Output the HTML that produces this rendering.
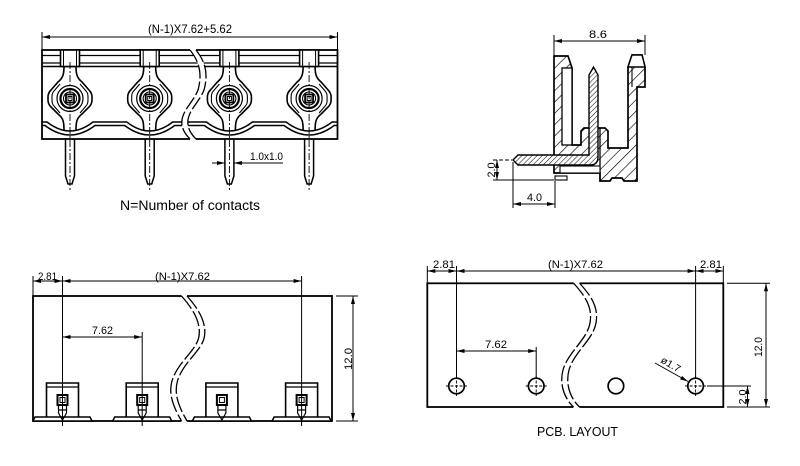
<!DOCTYPE html>
<html><head><meta charset="utf-8"><style>
html,body{margin:0;padding:0;background:#fff;}
svg{display:block;}
text{font-family:"Liberation Sans Narrow","Liberation Sans",sans-serif;fill:#000;}
</style></head><body>
<svg width="800" height="466" viewBox="0 0 800 466" xmlns="http://www.w3.org/2000/svg">
<defs>
<marker id="a" markerUnits="userSpaceOnUse" viewBox="0 0 8 4" refX="8" refY="2" markerWidth="8" markerHeight="4" orient="auto-start-reverse"><path d="M0,0L8,2L0,4z" fill="#000"/></marker>
<pattern id="h1" patternUnits="userSpaceOnUse" width="8" height="8" patternTransform="rotate(45)"><line x1="0" y1="0" x2="0" y2="8" stroke="#000" stroke-width="1.3"/></pattern>
<pattern id="h2" patternUnits="userSpaceOnUse" width="3.6" height="3.6" patternTransform="rotate(45)"><line x1="0" y1="0" x2="0" y2="3.6" stroke="#000" stroke-width="1"/></pattern>
<g id="scr" fill="none" stroke="#000">
 <rect x="-9.5" y="50" width="19" height="16.5" fill="#fff" stroke-width="1.6"/>
 <path d="M-6.5,50 L-6.5,66.5 M6.5,50 L6.5,66.5" stroke-width="1"/>
 <path d="M-6,66.5 C-6,74 -7,78 -12,82 L-19,90 C-21,92 -22,94 -22,97 L-22,100 C-22,103 -21,105 -19,107 L-12,114 C-7,118 -6,121 -6,130 M6,66.5 C6,74 7,78 12,82 L19,90 C21,92 22,94 22,97 L22,100 C22,103 21,105 19,107 L12,114 C7,118 6,121 6,130" stroke-width="1.6"/>
 <path d="M-10,84 L-16,91 C-18,93 -18,95 -18,98.5 C-18,102 -18,104 -16,106 L-10,113 M10,84 L16,91 C18,93 18,95 18,98.5 C18,102 18,104 16,106 L10,113" stroke-width="1.1"/>
 <circle cx="0" cy="98.5" r="13" stroke-width="1.2"/>
 <circle cx="0" cy="98.5" r="9.5" stroke-width="2.2"/>
 <circle cx="0" cy="98.5" r="6.5" stroke-width="1.1"/>
 <rect x="-4" y="94.5" width="8" height="8" stroke-width="1.8"/>
 <rect x="-2" y="96.5" width="4" height="4" stroke-width="1"/>
 <path d="M-4.5,139 L-4.5,176 L-2,184 L2,184 L4.5,176 L4.5,139" stroke-width="1.5"/>
 <line x1="0" y1="62" x2="0" y2="190" stroke-width="0.9" stroke-dasharray="7 2 2 2"/>
</g>
<g id="term" fill="none" stroke="#000">
 <polygon points="-29.5,421 -27.5,417 27.5,417 29.5,421" fill="#fff" stroke-width="1.5"/>
 <path d="M-16,417 L-16,383 L16,383 L16,417" stroke-width="1.6"/>
 <line x1="-16" y1="387" x2="16" y2="387" stroke-width="1.2"/>
 <rect x="-5" y="395" width="10" height="10" stroke-width="2"/>
 <rect x="-2.5" y="397.5" width="5" height="5" stroke-width="1"/>
 <path d="M-4,405 L-4,413 L0,420 L4,413 L4,405 M-4,410 L4,410" stroke-width="1.2"/>
</g>
</defs>

<!-- ===== TOP LEFT: front view ===== -->
<g fill="none" stroke="#000">
 <rect x="42" y="50" width="295.5" height="89" stroke-width="1.8"/>
 <line x1="42" y1="55.5" x2="337.5" y2="55.5" stroke-width="1.2"/>
 <line x1="42" y1="63" x2="337.5" y2="63" stroke-width="1.2"/>
 <line x1="42" y1="66.5" x2="337.5" y2="66.5" stroke-width="1.5"/>
 <path d="M42,122 L47,122 Q70,140 93,122 L126.7,122 Q149.7,140 172.7,122 L206.4,122 Q229.4,140 252.4,122 L286.1,122 Q309.1,140 332.1,122 L337.5,122" stroke-width="1.5"/>
 <path d="M42,125.5 L45,125.5 Q70,144.5 95,125.5 L124.7,125.5 Q149.7,144.5 174.7,125.5 L204.4,125.5 Q229.4,144.5 254.4,125.5 L284.1,125.5 Q309.1,144.5 334.1,125.5 L337.5,125.5" stroke-width="1.5"/>
</g>
<use href="#scr" transform="translate(70,0)"/>
<use href="#scr" transform="translate(149.7,0)"/>
<use href="#scr" transform="translate(229.4,0)"/>
<use href="#scr" transform="translate(309.1,0)"/>
<path d="M190,48.5 L190,50 C198,60 203,72 198,90 C193,103 180,112 182,125 C183,131 186,135 190,139 L190,140.5 L196,140.5 L196,139 C192,135 189,131 188,125 C186,112 199,103 204,90 C209,72 204,60 196,50 L196,48.5 Z" fill="#fff"/>
<g fill="none" stroke="#000" stroke-width="1.3">
 <path d="M190,50 C198,60 203,72 198,90 C193,103 180,112 182,125 C183,131 186,135 190,139" stroke-dasharray="14 3"/>
 <path d="M196,50 C204,60 209,72 204,90 C199,103 186,112 188,125 C189,131 192,135 196,139" stroke-dasharray="14 3"/>
</g>
<g stroke="#000" stroke-width="1" fill="none">
 <line x1="42" y1="32" x2="42" y2="50"/>
 <line x1="337.5" y1="32" x2="337.5" y2="50"/>
 <line x1="42" y1="37" x2="337.5" y2="37" marker-start="url(#a)" marker-end="url(#a)"/>
 <line x1="212" y1="163" x2="224.9" y2="163" marker-end="url(#a)"/>
 <line x1="283" y1="163" x2="233.9" y2="163" marker-end="url(#a)"/>
</g>
<text x="148" y="33" font-size="12" textLength="84" lengthAdjust="spacingAndGlyphs">(N-1)X7.62+5.62</text>
<text x="250" y="160" font-size="11" textLength="33" lengthAdjust="spacingAndGlyphs">1.0x1.0</text>
<text x="120" y="210" font-size="13.5" textLength="140" lengthAdjust="spacingAndGlyphs">N=Number of contacts</text>

<!-- ===== TOP RIGHT: side section ===== -->
<path d="M554,56 L568,56 L572,68 L572,145 L581,145 L581,131 L584,128 L605,128 L608,131 L608,148 L628,148 L628,67 L632,55 L642,55 L645,67 L645,87 L637,87 L637,181 L624,181 L622,178 L612,178 L610,181 L600,181 L600,173 L554,173 Z" fill="url(#h1)" stroke="#000" stroke-width="1.7"/>
<rect x="562" y="68" width="10" height="77" fill="#fff" stroke="#000" stroke-width="1.3"/>
<polygon points="628,67 632,55 642,55 645,67" fill="#fff" stroke="#000" stroke-width="1.4"/>
<line x1="632" y1="67" x2="632" y2="87" stroke="#000" stroke-width="1.1"/>
<line x1="600" y1="128" x2="600" y2="181" stroke="#000" stroke-width="1.3"/>
<rect x="560" y="166" width="40" height="7" fill="#fff" stroke="#000" stroke-width="1.1"/>
<rect x="555" y="176" width="12" height="4" fill="#fff" stroke="#000" stroke-width="1.1"/>
<path d="M513,160 L518,155 L589,155 L589,75 L593.5,67 L598,75 L598,157 Q598,165 590,165 L518,165 Z" fill="#fff" stroke="none"/>
<path d="M513,160 L518,155 L589,155 L589,75 L593.5,67 L598,75 L598,157 Q598,165 590,165 L518,165 Z" fill="url(#h2)" stroke="#000" stroke-width="1.4"/>
<g stroke="#000" stroke-width="1" fill="none">
 <line x1="554" y1="35" x2="554" y2="56"/>
 <line x1="645" y1="35" x2="645" y2="55"/>
 <line x1="554" y1="41" x2="645" y2="41" marker-start="url(#a)" marker-end="url(#a)"/>
 <line x1="493" y1="160" x2="512" y2="160" stroke-dasharray="4 2"/>
 <line x1="493" y1="180" x2="554" y2="180"/>
 <line x1="497" y1="160" x2="497" y2="180" marker-start="url(#a)" marker-end="url(#a)"/>
 <line x1="513" y1="162" x2="513" y2="208"/>
 <line x1="555" y1="181" x2="555" y2="208"/>
 <line x1="513" y1="204" x2="555" y2="204" marker-start="url(#a)" marker-end="url(#a)"/>
</g>
<text x="589" y="38" font-size="11" textLength="18" lengthAdjust="spacingAndGlyphs">8.6</text>
<text x="527" y="201" font-size="11" textLength="15" lengthAdjust="spacingAndGlyphs">4.0</text>
<text transform="translate(495,170) rotate(-90)" text-anchor="middle" font-size="11" textLength="15" lengthAdjust="spacingAndGlyphs">2.0</text>

<!-- ===== BOTTOM LEFT: bottom view ===== -->
<rect x="33" y="296" width="299" height="125" fill="none" stroke="#000" stroke-width="1.8"/>
<use href="#term" transform="translate(62.5,0)"/>
<use href="#term" transform="translate(142.2,0)"/>
<use href="#term" transform="translate(221.9,0)"/>
<use href="#term" transform="translate(301.6,0)"/>
<path d="M181.5,294.5 L181.5,296 C193,309 201,322 199,336 C197,350 180,360 173,378 C167,393 174,408 181.5,421 L181.5,422.5 L187,422.5 L187,421 C179.5,408 172.5,393 178.5,378 C185.5,360 202.5,350 204.5,336 C206.5,322 198.5,309 187,296 L187,294.5 Z" fill="#fff"/>
<g fill="none" stroke="#000" stroke-width="1.3">
 <path d="M181.5,296 C193,309 201,322 199,336 C197,350 180,360 173,378 C167,393 174,408 181.5,421" stroke-dasharray="16 3"/>
 <path d="M187,296 C198.5,309 206.5,322 204.5,336 C202.5,350 185.5,360 178.5,378 C172.5,393 179.5,408 187,421" stroke-dasharray="16 3"/>
</g>
<g stroke="#000" stroke-width="1" fill="none">
 <line x1="33" y1="276" x2="33" y2="296"/>
 <line x1="62.5" y1="276" x2="62.5" y2="426"/>
 <line x1="301.6" y1="276" x2="301.6" y2="426"/>
 <line x1="142.2" y1="332" x2="142.2" y2="426"/>
 <line x1="33" y1="281" x2="62.5" y2="281" marker-start="url(#a)" marker-end="url(#a)"/>
 <line x1="62.5" y1="281" x2="301.6" y2="281" marker-start="url(#a)" marker-end="url(#a)"/>
 <line x1="62.5" y1="337" x2="142.2" y2="337" marker-start="url(#a)" marker-end="url(#a)"/>
 <line x1="336" y1="296" x2="358" y2="296"/>
 <line x1="336" y1="421" x2="358" y2="421"/>
 <line x1="353" y1="296" x2="353" y2="421" marker-start="url(#a)" marker-end="url(#a)"/>
</g>
<text x="38" y="280" font-size="11" textLength="19" lengthAdjust="spacingAndGlyphs">2.81</text>
<text x="155" y="280" font-size="11" textLength="55" lengthAdjust="spacingAndGlyphs">(N-1)X7.62</text>
<text x="92" y="334" font-size="11" textLength="21" lengthAdjust="spacingAndGlyphs">7.62</text>
<text transform="translate(352,359) rotate(-90)" text-anchor="middle" font-size="11" textLength="22" lengthAdjust="spacingAndGlyphs">12.0</text>

<!-- ===== BOTTOM RIGHT: PCB layout ===== -->
<rect x="427.3" y="283.3" width="296" height="123.7" fill="none" stroke="#000" stroke-width="1.8"/>
<path d="M573.5,281.5 L573.5,283 C584,295 593,306 590,323 C587,340 568,352 563,370 C559,385 565,399 573.5,407 L573.5,408.5 L579.5,408.5 L579.5,407 C571,399 565,385 569,370 C574,352 593,340 596,323 C599,306 590,295 579.5,283 L579.5,281.5 Z" fill="#fff"/>
<g fill="none" stroke="#000" stroke-width="1.3">
 <path d="M573.5,283 C584,295 593,306 590,323 C587,340 568,352 563,370 C559,385 565,399 573.5,407" stroke-dasharray="16 3"/>
 <path d="M579.5,283 C590,295 599,306 596,323 C593,340 574,352 569,370 C565,385 571,399 579.5,407" stroke-dasharray="16 3"/>
</g>
<g fill="none" stroke="#000">
 <circle cx="456.5" cy="386" r="7.8" stroke-width="1.7"/>
 <circle cx="536.2" cy="386" r="7.8" stroke-width="1.7"/>
 <circle cx="615.9" cy="386" r="7.8" stroke-width="1.7"/>
 <circle cx="695.6" cy="386" r="7.8" stroke-width="1.7"/>
 <path d="M446,386 L467,386 M456.5,376 L456.5,396 M525.7,386 L546.7,386 M536.2,376 L536.2,396 M685.1,386 L706.1,386 M695.6,376 L695.6,396" stroke-width="0.9" stroke-dasharray="3 1.5"/>
</g>
<g stroke="#000" stroke-width="1" fill="none">
 <line x1="427.3" y1="266" x2="427.3" y2="283"/>
 <line x1="723.3" y1="266" x2="723.3" y2="283"/>
 <line x1="456.5" y1="266" x2="456.5" y2="378"/>
 <line x1="695.6" y1="266" x2="695.6" y2="378"/>
 <line x1="536.2" y1="347" x2="536.2" y2="378"/>
 <line x1="427.3" y1="271" x2="456.5" y2="271" marker-start="url(#a)" marker-end="url(#a)"/>
 <line x1="456.5" y1="271" x2="695.6" y2="271" marker-start="url(#a)" marker-end="url(#a)"/>
 <line x1="695.6" y1="271" x2="723.3" y2="271" marker-start="url(#a)" marker-end="url(#a)"/>
 <line x1="456.5" y1="351" x2="536.2" y2="351" marker-start="url(#a)" marker-end="url(#a)"/>
 <line x1="727" y1="283.3" x2="770" y2="283.3"/>
 <line x1="727" y1="407" x2="770" y2="407"/>
 <line x1="766" y1="283.3" x2="766" y2="407" marker-start="url(#a)" marker-end="url(#a)"/>
 <line x1="707" y1="386" x2="751" y2="386"/>
 <line x1="747.5" y1="386" x2="747.5" y2="407" marker-start="url(#a)" marker-end="url(#a)"/>
 <line x1="655" y1="363" x2="688" y2="381.5" marker-end="url(#a)"/>
</g>
<text x="433" y="268" font-size="11" textLength="22" lengthAdjust="spacingAndGlyphs">2.81</text>
<text x="548" y="268" font-size="11" textLength="55" lengthAdjust="spacingAndGlyphs">(N-1)X7.62</text>
<text x="700" y="268" font-size="11" textLength="22" lengthAdjust="spacingAndGlyphs">2.81</text>
<text x="485" y="348" font-size="11" textLength="22" lengthAdjust="spacingAndGlyphs">7.62</text>
<text transform="translate(762,347) rotate(-90)" text-anchor="middle" font-size="11" textLength="20" lengthAdjust="spacingAndGlyphs">12.0</text>
<text transform="translate(746,397) rotate(-90)" text-anchor="middle" font-size="10" textLength="15" lengthAdjust="spacingAndGlyphs">2.0</text>
<text transform="translate(660,362) rotate(30)" font-size="10" textLength="21" lengthAdjust="spacingAndGlyphs">ø1.7</text>
<text x="537" y="436" font-size="13" textLength="81" lengthAdjust="spacingAndGlyphs">PCB. LAYOUT</text>
</svg>
</body></html>
